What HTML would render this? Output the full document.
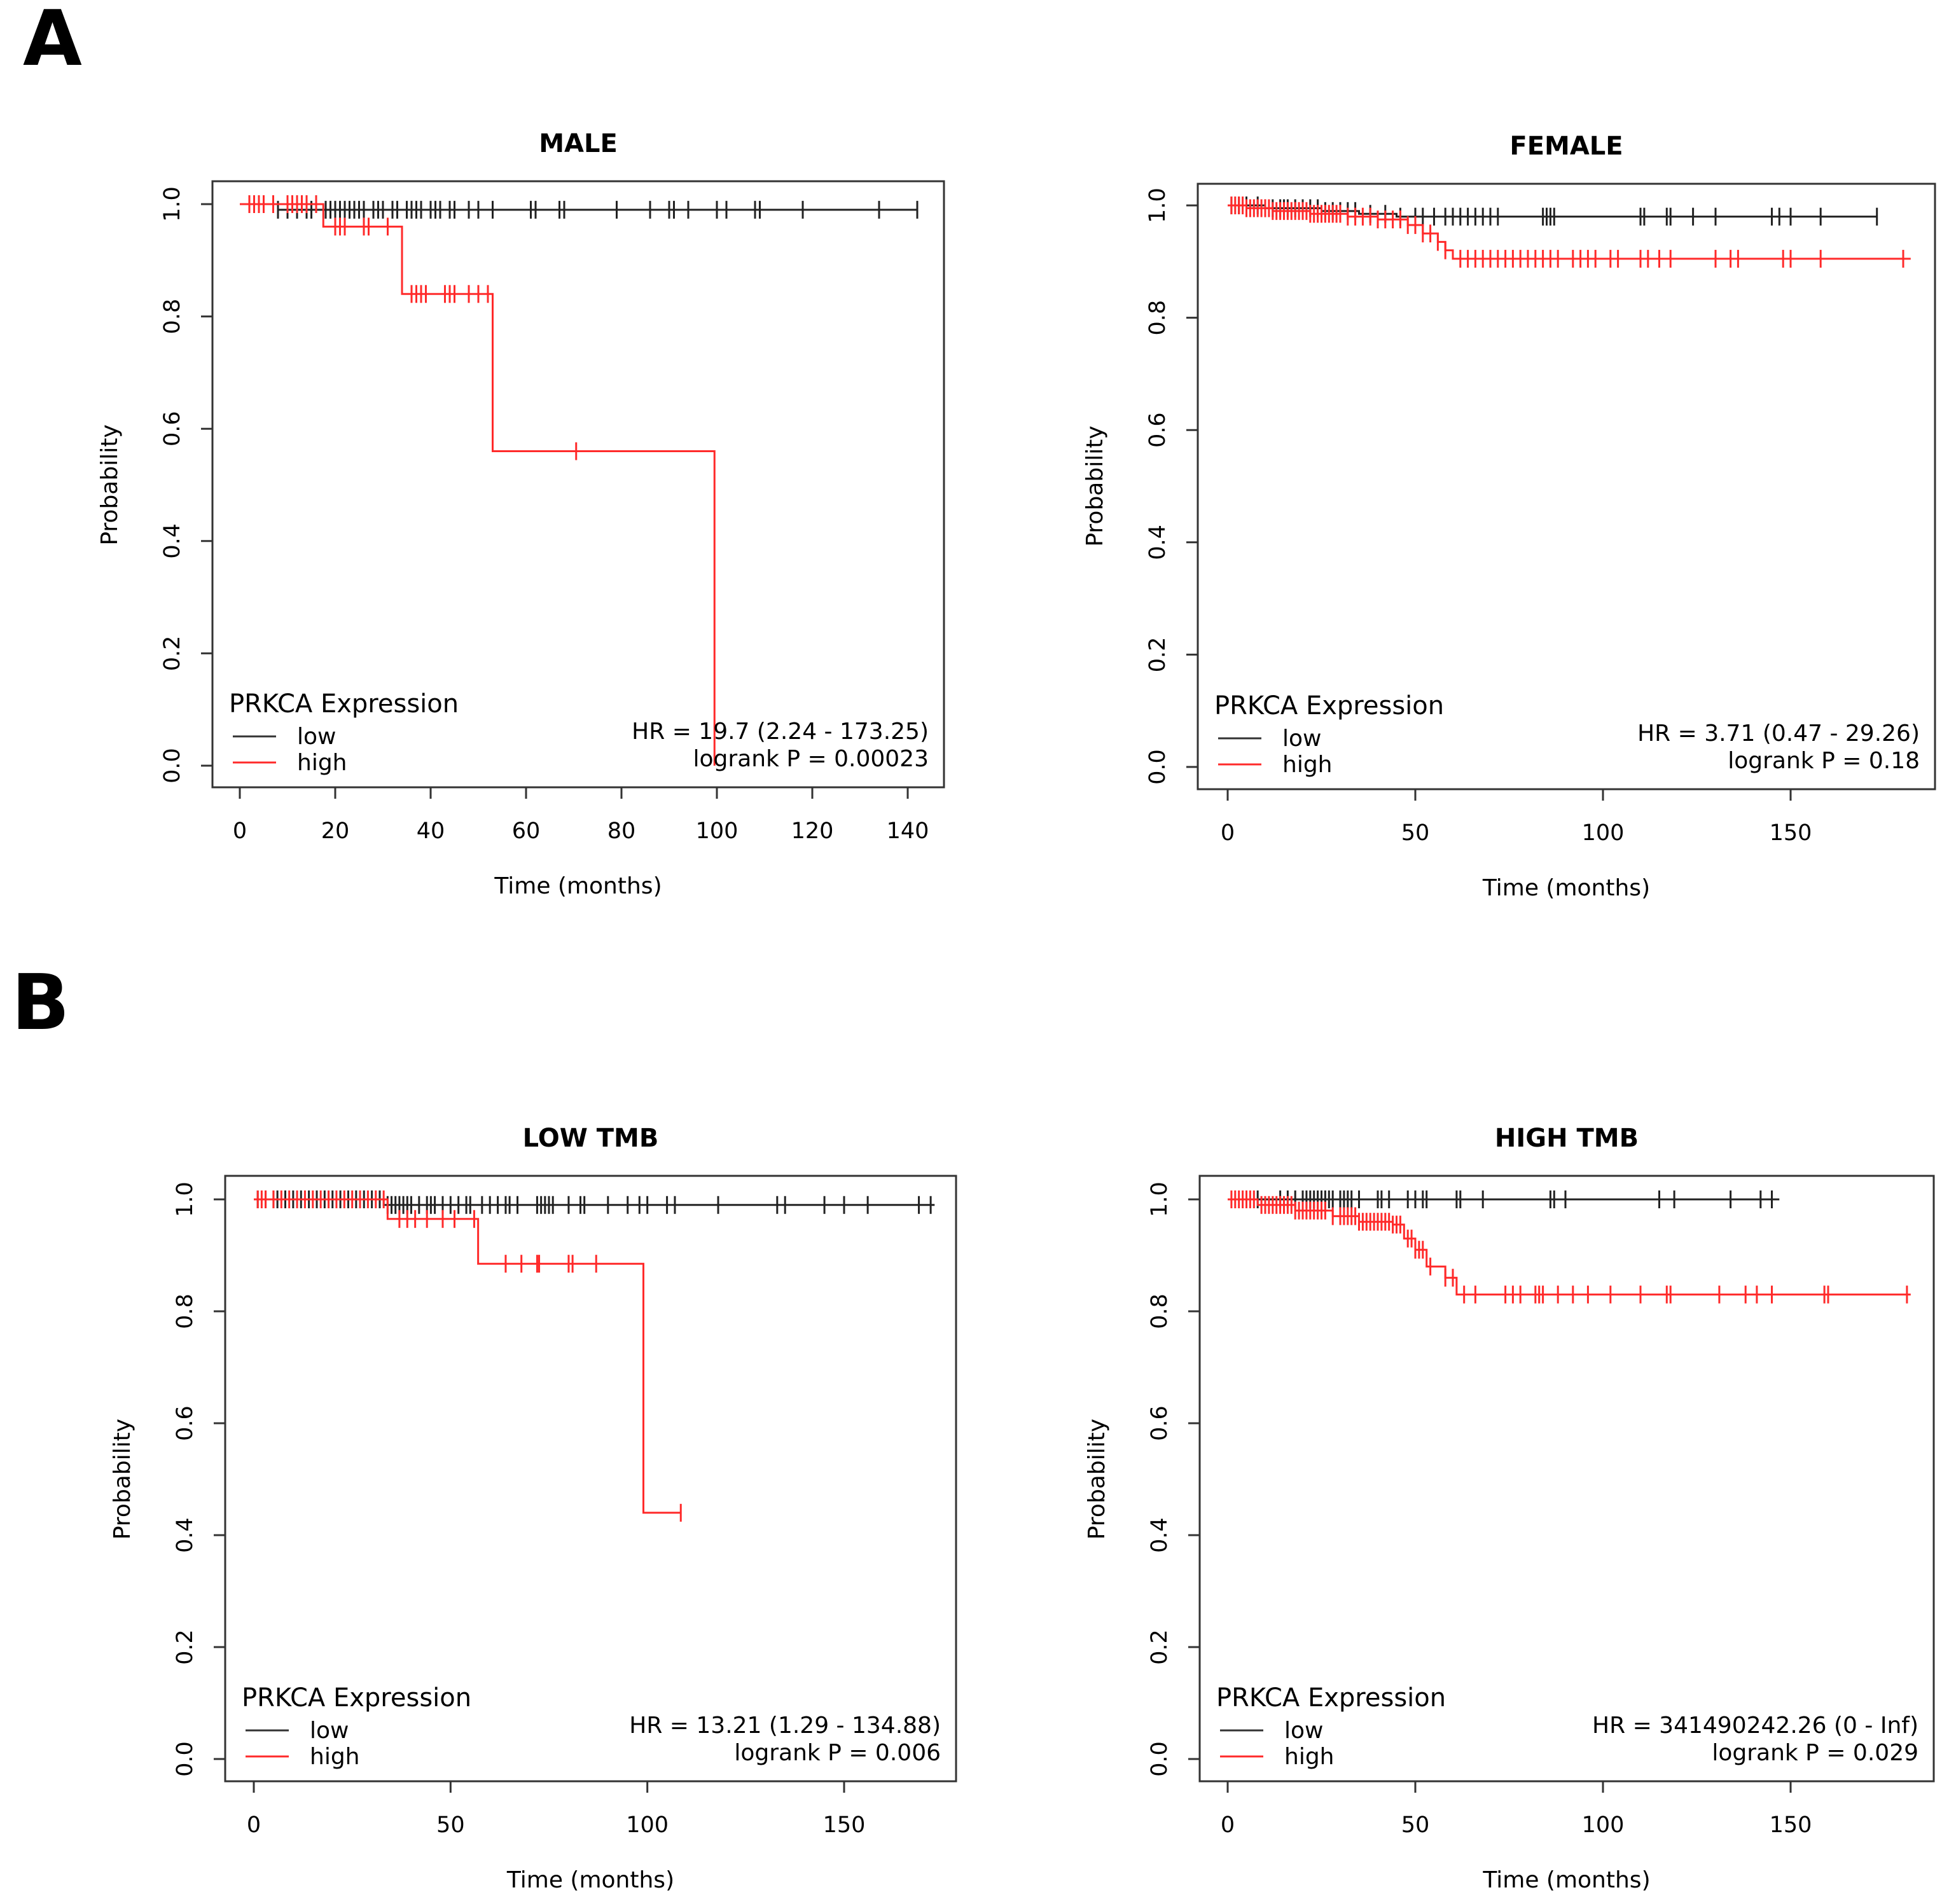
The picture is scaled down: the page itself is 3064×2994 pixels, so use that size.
<!DOCTYPE html>
<html><head><meta charset="utf-8"><style>
html,body{margin:0;padding:0;background:#fff}
svg{display:block}
text{font-family:"DejaVu Sans","Liberation Sans",sans-serif}
</style></head><body>
<svg id="fig" width="3064" height="2994" viewBox="0 0 3064 2994" xmlns="http://www.w3.org/2000/svg">
<text x="36" y="102" font-family="Liberation Sans" font-weight="bold" font-size="120">A</text>
<text x="18" y="1618" font-family="Liberation Sans" font-weight="bold" font-size="120">B</text>
</svg>
<script>
// MALE
const maleLowSteps = [[0,1.0],[8,0.99],[142,0.99]];
const maleLowCens = [8,10,12,14,15,18,19,20,21,22,23,24,25,26,28,29,30,32,33,35,36,37,38,40,41,42,44,45,48,50,53,61,62,67,68,79,86,90,91,94,100,102,108,109,118,134,142];
const maleHighSteps = [[0,1.0],[17.5,0.96],[34,0.84],[53,0.56],[99.5,0.0]];
const maleHighCens = [2,3,4,5,7,10,11,12,13,14,16,20,21,22,26,27,31,36,37,38,39,43,44,45,48,50,52,70.5];
// FEMALE
const femLowSteps = [[0,1.0],[10,0.995],[25,0.99],[35,0.985],[45,0.98],[173,0.98]];
const femLowCens = [1,3,5,8,10,12,14,15,16,18,20,22,24,26,28,30,32,34,38,42,46,50,52,55,58,60,62,64,66,68,70,72,84,85,86,87,110,111,117,118,124,130,145,147,150,158,173];
const femHighSteps = [[0,1.0],[5,0.995],[12,0.99],[22,0.985],[32,0.98],[40,0.975],[48,0.965],[52,0.95],[56,0.935],[58,0.92],[60,0.905],[182,0.905]];
const femHighCens = [1,2,3,4,5,6,7,8,9,10,11,12,13,14,15,16,17,18,19,20,21,22,23,24,25,26,27,28,29,30,32,34,36,38,40,42,44,46,48,50,52,54,56,58,62,64,66,68,70,72,74,76,78,80,82,84,86,88,92,94,96,98,102,104,110,112,115,118,130,134,136,148,150,158,180];
// LOW TMB
const lowLowSteps = [[0,1.0],[33,0.99],[173,0.99]];
const lowLowCens = [1,3,5,6,8,10,12,14,16,18,19,20,22,24,26,28,30,32,34,35,36,37,38,39,40,42,44,45,46,48,50,52,54,55,58,60,62,64,65,67,72,73,74,75,76,80,83,84,90,95,98,100,105,107,118,133,135,145,150,156,169,172];
const lowHighSteps = [[0,1.0],[34,0.965],[57,0.885],[99,0.44],[108.5,0.44]];
const lowHighCens = [1,2,3,5,7,9,11,13,15,17,19,21,23,25,27,29,31,33,37,39,41,44,48,51,56,64,68,72,72.5,80,81,87,108.5];
// HIGH TMB
const hiLowSteps = [[0,1.0],[147,1.0]];
const hiLowCens = [8,14,16,18,20,21,22,23,24,25,26,27,28,30,31,32,33,35,40,41,43,48,50,52,53,61,62,68,86,87,90,115,119,134,142,145];
const hiHighSteps = [[0,1.0],[8,0.99],[18,0.98],[28,0.97],[35,0.96],[44,0.955],[47,0.93],[50,0.91],[53,0.88],[58,0.86],[61,0.83],[182,0.83]];
const hiHighCens = [1,2,3,4,5,6,7,9,10,11,12,13,14,15,16,17,18,19,20,21,22,23,24,25,26,28,30,31,32,33,34,35,36,37,38,39,40,41,42,43,44,45,46,48,49,50,51,52,54,58,60,63,66,74,76,78,82,83,84,88,92,96,102,110,117,118,131,138,141,145,159,160,181];

const xTicksMale = [0,20,40,60,80,100,120,140];
const xTicks150 = [0,50,100,150];
const yTicks = [0,0.2,0.4,0.6,0.8,1.0];

const panels = [
 {key:'male',title:'MALE',L:334,T:285,R:1484,B:1238,x0:377,xMaxPx:1427,xMax:140,y1:321,y0:1204,xt:xTicksMale,
  low:maleLowSteps,lowC:maleLowCens,high:maleHighSteps,highC:maleHighCens,hr:'HR = 19.7 (2.24 - 173.25)',p:'logrank P = 0.00023'},
 {key:'female',title:'FEMALE',L:1883,T:289,R:3042,B:1241,x0:1930,xMaxPx:2815,xMax:150,y1:323,y0:1206,xt:xTicks150,
  low:femLowSteps,lowC:femLowCens,high:femHighSteps,highC:femHighCens,hr:'HR = 3.71 (0.47 - 29.26)',p:'logrank P = 0.18'},
 {key:'low-tmb',title:'LOW TMB',L:354,T:1849,R:1503,B:2801,x0:399,xMaxPx:1327,xMax:150,y1:1886,y0:2766,xt:xTicks150,
  low:lowLowSteps,lowC:lowLowCens,high:lowHighSteps,highC:lowHighCens,hr:'HR = 13.21 (1.29 - 134.88)',p:'logrank P = 0.006'},
 {key:'high-tmb',title:'HIGH TMB',L:1886,T:1849,R:3040,B:2801,x0:1930,xMaxPx:2815,xMax:150,y1:1886,y0:2766,xt:xTicks150,
  low:hiLowSteps,lowC:hiLowCens,high:hiHighSteps,highC:hiHighCens,hr:'HR = 341490242.26 (0 - Inf)',p:'logrank P = 0.029'}
];
const NS='http://www.w3.org/2000/svg';
const fig=document.getElementById('fig');
function mk(tag,attrs,parent,txt){const e=document.createElementNS(NS,tag);for(const k in attrs)e.setAttribute(k,attrs[k]);if(txt!==undefined)e.textContent=txt;parent.appendChild(e);return e;}
function survAt(steps,t){let s=steps[0][1];for(const st of steps){if(st[0]<=t)s=st[1];}return s;}
panels.forEach(p=>{
  const g=mk('g',{},fig);
  
  
  const sx=t=>p.x0+(p.xMaxPx-p.x0)*t/p.xMax;
  const sy=v=>p.y0+(p.y1-p.y0)*v;
  const title=mk('text',{x:(p.L+p.R)/2,y:p.T-46,'text-anchor':'middle','font-size':40,'font-weight':'bold'},g,p.title);
  
  
  const box=mk('rect',{x:p.L,y:p.T,width:p.R-p.L,height:p.B-p.T,fill:'none',stroke:'#333','stroke-width':3},g);
  
  
  // x axis
  const xa=mk('g',{},g);
  
  
  mk('line',{x1:sx(p.xt[0]),x2:sx(p.xt[p.xt.length-1]),y1:p.B,y2:p.B,stroke:'#333','stroke-width':3},xa);
  p.xt.forEach(t=>{
    mk('line',{x1:sx(t),x2:sx(t),y1:p.B,y2:p.B+18,stroke:'#333','stroke-width':3},xa);
    const tl=mk('text',{x:sx(t),y:p.B+80,'text-anchor':'middle','font-size':35},xa,String(t));
    
    
  });
  const xt=mk('text',{x:(p.L+p.R)/2,y:p.B+167,'text-anchor':'middle','font-size':36},g,'Time (months)');
  
  
  // y axis
  const ya=mk('g',{},g);
  
  
  mk('line',{x1:p.L,x2:p.L,y1:sy(0),y2:sy(1),stroke:'#333','stroke-width':3},ya);
  yTicks.forEach(v=>{
    mk('line',{x1:p.L-18,x2:p.L,y1:sy(v),y2:sy(v),stroke:'#333','stroke-width':3},ya);
    const tx=p.L-52;
    const tl=mk('text',{x:tx,y:sy(v),'text-anchor':'middle','font-size':35,'font-family':'Liberation Mono','transform':`rotate(-90 ${tx} ${sy(v)})`},ya,v.toFixed(1));
    
    
  });
  const ytx=p.L-150, yty=(sy(0)+sy(1))/2;
  const yt=mk('text',{x:ytx,y:yty,'text-anchor':'middle','font-size':36,transform:`rotate(-90 ${ytx} ${yty})`},g,'Probability');
  
  
  // curves
  [['low','#222',p.low,p.lowC],['high','#ff2a2a',p.high,p.highC]].forEach(([nm,col,steps,cens])=>{
    let d=`M${sx(steps[0][0])},${sy(steps[0][1])}`;
    for(let i=1;i<steps.length;i++){d+=` H${sx(steps[i][0])} V${sy(steps[i][1])}`;}
    const path=mk('path',{d:d,fill:'none',stroke:col,'stroke-width':3},g);
    
    
    cens.forEach(t=>{
      const v=survAt(steps,t);
      const c=mk('line',{x1:sx(t),x2:sx(t),y1:sy(v)-14,y2:sy(v)+14,stroke:col,'stroke-width':3},g);
      
      
    });
  });
  // legend
  const lg=mk('g',{},g);
  
  
  mk('text',{x:p.L+26,y:p.B-118,'font-size':40,'font-family':'DejaVu Sans'},lg,'PRKCA Expression');
  mk('line',{x1:p.L+32,x2:p.L+100,y1:p.B-80,y2:p.B-80,stroke:'#333','stroke-width':3},lg);
  mk('text',{x:p.L+133,y:p.B-68,'font-size':36},lg,'low');
  mk('line',{x1:p.L+32,x2:p.L+100,y1:p.B-39,y2:p.B-39,stroke:'#ff2a2a','stroke-width':3},lg);
  mk('text',{x:p.L+133,y:p.B-27,'font-size':36},lg,'high');
  const hr=mk('text',{x:p.R-24,y:p.B-76,'text-anchor':'end','font-size':36},g,p.hr);
  
  
  const pv=mk('text',{x:p.R-24,y:p.B-33,'text-anchor':'end','font-size':36},g,p.p);
  
  
});
</script>
</body></html>
